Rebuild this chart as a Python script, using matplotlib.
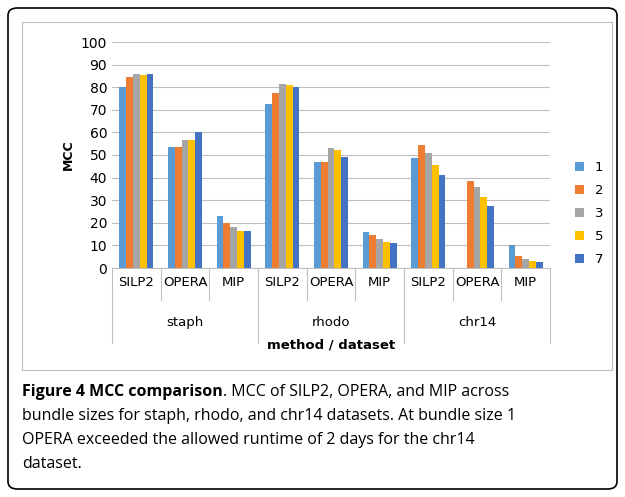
import matplotlib
matplotlib.use("Agg")
import matplotlib.pyplot as plt
from matplotlib.patches import FancyBboxPatch, Rectangle
import numpy as np

methods = ["SILP2", "OPERA", "MIP"]
datasets = ["staph", "rhodo", "chr14"]
bundles = ["1", "2", "3", "5", "7"]
colors = ["#5B9BD5", "#ED7D31", "#A5A5A5", "#FFC000", "#4472C4"]
values = {
    "1": [80, 53.5, 23, 72.5, 47, 16, 48.5, 0, 10],
    "2": [84.5, 53.5, 20, 77.5, 47, 14.5, 54.5, 38.5, 5.5],
    "3": [86, 56.5, 18, 81.5, 53, 13, 51, 36, 4],
    "5": [85.5, 56.5, 16.5, 81, 52, 11.5, 45.5, 31.5, 3],
    "7": [86, 60, 16.5, 80, 49, 11, 41, 27.5, 2.5],
}

fig = plt.figure(figsize=(6.25, 4.97), dpi=100)
W, H = 625, 497
fig.patches.append(FancyBboxPatch((8/W, 8/H), 609/W, 481/H, boxstyle="round,pad=0,rounding_size=0.015",
                                  transform=fig.transFigure, fill=False, ec="black", lw=1.2))
fig.patches.append(Rectangle((22/W, 1-370/H), 590/W, 348/H, transform=fig.transFigure,
                             fill=False, ec="#bbbbbb", lw=0.8))
ax = fig.add_axes([112/W, 1-268/H, 438/W, 226/H])
n = 9
bw = 0.14
x = np.arange(n)
for i, b in enumerate(bundles):
    ax.bar(x + (i - 2) * bw, values[b], bw, color=colors[i], label=b, zorder=3)
ax.set_xlim(-0.5, n - 0.5)
ax.set_ylim(0, 100)
ax.set_yticks(range(0, 101, 10))
ax.tick_params(axis="y", length=0, labelsize=10)
ax.set_xticks([])
ax.grid(axis="y", color="#bfbfbf", lw=0.8, zorder=0)
for s in ["top", "right", "left"]:
    ax.spines[s].set_visible(False)
ax.spines["bottom"].set_color("#bfbfbf")
ax.set_ylabel("MCC", fontweight="bold", fontsize=9)
tr = ax.get_xaxis_transform()
for k in range(n):
    ax.text(k, -0.065, methods[k % 3], ha="center", va="center", fontsize=9.5, transform=tr)
for g in range(3):
    ax.text(3 * g + 1, -0.24, datasets[g], ha="center", va="center", fontsize=9.5, transform=tr)
for k in range(n + 1):
    xe = k - 0.5
    low = -0.33 if k % 3 == 0 else -0.14
    ax.plot([xe, xe], [0, low], transform=tr, color="#bfbfbf", lw=0.8, clip_on=False)
ax.text(0.5, -0.34, "method / dataset", ha="center", va="center", fontsize=9.5,
        fontweight="bold", transform=ax.transAxes)
ax.legend(loc="center left", bbox_to_anchor=(1.03, 0.24), frameon=False, fontsize=9.5,
          handlelength=0.7, handleheight=0.7, labelspacing=0.75)
cap_lines = [
    None,
    "bundle sizes for staph, rhodo, and chr14 datasets. At bundle size 1",
    "OPERA exceeded the allowed runtime of 2 days for the chr14",
    "dataset.",
]
y0 = 1 - 392/H
fs = 11.5
t = fig.text(22/W, y0, "Figure 4 MCC comparison", fontweight="bold", fontsize=fs, va="center", family="Open Sans")
fig.canvas.draw()
bb = t.get_window_extent()
fig.text(bb.x1/W, y0, ". MCC of SILP2, OPERA, and MIP across", fontsize=fs, va="center", family="Open Sans")
for i, l in enumerate(cap_lines[1:], start=1):
    fig.text(22/W, y0 - i*24/H, l, fontsize=fs, va="center", family="Open Sans")
fig.savefig("out.png", dpi=100)
